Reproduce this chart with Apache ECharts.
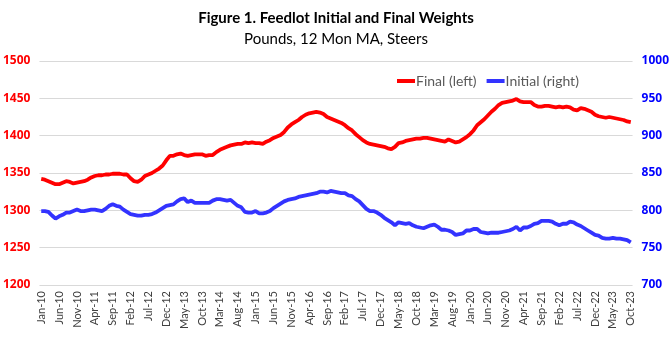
<!DOCTYPE html>
<html><head><meta charset="utf-8">
<script src="https://cdn.jsdelivr.net/npm/echarts@6/dist/echarts.min.js"></script>
<style>html,body{margin:0;padding:0;background:#fff}#c{width:672px;height:349px}</style>
</head><body><div id="c"></div>
<script>
const monthNames = ['Jan','Feb','Mar','Apr','May','Jun','Jul','Aug','Sep','Oct','Nov','Dec'];
const startYear = 2010, monthCount = 166;
const categories = [];
for (let i = 0; i < monthCount; i++) {
  const y = startYear + Math.floor(i / 12);
  categories.push(monthNames[i % 12] + '-' + String(y % 100).padStart(2, '0'));
}
const finalWeights = [
1342,1341,1339,1337,1335,1335,1337,1339,1338,1336,1337,1338,
1339,1341,1344,1346,1347,1347,1348,1348,1349,1349,1349,1348,
1348,1343,1339,1338,1341,1346,1348,1350,1353,1356,1360,1367,
1373,1373,1375,1376,1374,1373,1374,1375,1375,1375,1373,1374,
1374,1378,1381,1383,1385,1387,1388,1389,1389,1391,1390,1391,
1390,1390,1389,1392,1394,1397,1399,1401,1405,1411,1415,1418,
1421,1425,1428,1430,1431,1432,1431,1429,1425,1423,1421,1419,
1417,1414,1410,1407,1402,1398,1394,1391,1389,1388,1387,1386,
1385,1383,1382,1385,1390,1391,1393,1394,1395,1396,1396,1397,
1397,1396,1395,1394,1393,1392,1395,1393,1391,1392,1395,1398,
1402,1407,1414,1418,1422,1427,1432,1436,1441,1444,1445,1446,
1447,1449,1446,1445,1445,1445,1441,1439,1439,1440,1440,1439,
1438,1439,1438,1439,1438,1435,1434,1437,1436,1434,1432,1428,
1426,1425,1424,1425,1424,1423,1422,1421,1419,1418
];
const initialWeights = [
799,799,798,793,789,792,794,797,797,799,801,799,
799,800,801,801,800,799,802,806,808,806,805,801,
798,795,794,793,793,794,794,795,797,800,803,806,
807,808,812,815,816,811,813,810,810,810,810,810,
813,815,815,814,813,814,810,806,804,798,797,797,
799,796,796,797,799,803,806,809,812,814,815,816,
818,819,820,821,822,823,825,825,824,826,825,824,
823,823,820,819,815,812,807,802,799,799,797,794,
790,787,784,780,784,783,782,783,780,778,777,776,
778,780,781,778,774,774,773,771,767,768,769,773,
773,775,775,771,770,769,770,770,770,771,772,773,
775,778,773,777,777,779,782,783,786,786,786,785,
782,780,782,782,785,784,781,779,776,773,770,767,
766,763,762,762,763,762,762,761,760,757
];
const leftTicks = [1200, 1500, 50];
const rightTicks = [700, 1000, 50];

const chart = echarts.init(document.getElementById('c'), null, {renderer: 'canvas'});
const FONT = 'Lato, "Open Sans", sans-serif';
const LBL = '"Open Sans", Lato, sans-serif';
chart.setOption({
  animation: false,
  backgroundColor: '#ffffff',
  title: [
    {text: 'Figure 1. Feedlot Initial and Final Weights', left: 'center', top: 6,
     textStyle: {fontFamily: FONT, fontSize: 15, fontWeight: 'bold', color: '#000'}},
    {text: 'Pounds, 12 Mon MA, Steers', left: 'center', top: 27,
     textStyle: {fontFamily: FONT, fontSize: 15, fontWeight: 'normal', color: '#000'}}
  ],
  legend: {
    top: 69, left: 392, itemGap: 10, itemWidth: 18, itemHeight: 4, icon: 'rect',
    textStyle: {fontFamily: FONT, fontSize: 14, color: '#595959', padding: [0,0,0,-4]},
    data: ['Final (left)', 'Initial (right)']
  },
  grid: {left: 39, right: 38, top: 61, bottom: 64},
  xAxis: {
    type: 'category', data: categories, boundaryGap: true,
    axisLine: {show: false}, axisTick: {show: false},
    axisLabel: {interval: 4, rotate: 90, fontFamily: FONT, fontSize: 11, color: '#404040', margin: 6}
  },
  yAxis: [
    {type: 'value', min: leftTicks[0], max: leftTicks[1], interval: leftTicks[2],
     axisLine: {show: false}, axisTick: {show: false},
     splitLine: {lineStyle: {color: '#d9d9d9', width: 1}},
     axisLabel: {formatter: v => String(v), fontFamily: LBL, fontSize: 12, fontWeight: 700, color: '#ff0000', margin: 9}},
    {type: 'value', min: rightTicks[0], max: rightTicks[1], interval: rightTicks[2],
     axisLine: {show: false}, axisTick: {show: false}, splitLine: {show: false},
     axisLabel: {formatter: v => String(v), fontFamily: LBL, fontSize: 12, fontWeight: 700, color: '#0000ff', margin: 9}}
  ],
  series: [
    {name: 'Final (left)', type: 'line', yAxisIndex: 0, data: finalWeights, showSymbol: false,
     lineStyle: {color: '#ff0000', width: 3.8}, itemStyle: {color: '#ff0000'}},
    {name: 'Initial (right)', type: 'line', yAxisIndex: 1, data: initialWeights, showSymbol: false,
     lineStyle: {color: '#3333ff', width: 3.8}, itemStyle: {color: '#3333ff'}}
  ]
});
</script></body></html>
